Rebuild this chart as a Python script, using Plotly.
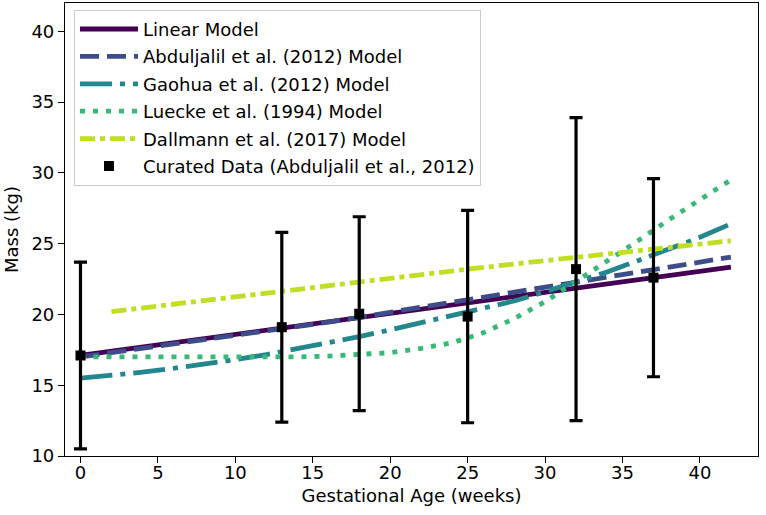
import plotly.graph_objects as go

# ---- data ----
weeks = [0, 2, 4, 6, 8, 10, 12, 14, 16, 18, 20, 22, 24, 26, 28, 30, 32, 34, 36, 38, 40, 42]
linear_weeks = [0, 42]
linear_mass = [17.1, 23.35]
abduljalil_mass = [17.0, 17.3, 17.6, 17.9, 18.2, 18.5, 18.8, 19.1, 19.45, 19.8, 20.15,
                   20.5, 20.85, 21.2, 21.55, 21.9, 22.25, 22.6, 23.0, 23.35, 23.7, 24.05]
gaohua_mass = [15.5, 15.7, 15.92, 16.19, 16.48, 16.81, 17.16, 17.56, 17.98, 18.43, 18.91,
               19.4, 19.9, 20.4, 20.95, 21.6, 22.3, 23.0, 23.8, 24.6, 25.45, 26.4]
luecke_mass = [17.0, 17.0, 17.0, 16.95, 16.95, 16.95, 16.95, 17.0, 17.05, 17.15, 17.3,
               17.6, 18.0, 18.7, 19.7, 20.9, 22.3, 23.7, 25.2, 26.7, 28.1, 29.5]
dallmann_weeks = [2, 5, 10, 15, 20, 25, 30, 35, 42]
dallmann_mass = [20.2, 20.6, 21.25, 21.9, 22.55, 23.2, 23.8, 24.35, 25.2]

data_weeks = [0, 13, 18, 25, 32, 37]
data_mass = [17.1, 19.1, 20.05, 19.85, 23.2, 22.6]
data_sd = [6.6, 6.7, 6.85, 7.5, 10.7, 7.0]

names = ["Linear Model", "Abduljalil et al. (2012) Model", "Gaohua et al. (2012) Model",
         "Luecke et al. (1994) Model", "Dallmann et al. (2017) Model",
         "Curated Data (Abduljalil et al., 2012)"]
colors = ["#440154", "#3e4c8a", "#23878d", "#38b977", "#bfdf25"]
dashes = ["solid", "19px,8px", "32px,8px,5px,8px", "5px,8px", "15px,5px,5px,5px"]

FONT = "DejaVu Sans"
LW = 4.8

fig = go.Figure()
series = [(linear_weeks, linear_mass), (weeks, abduljalil_mass), (weeks, gaohua_mass),
          (weeks, luecke_mass), (dallmann_weeks, dallmann_mass)]
for i, (xs, ys) in enumerate(series):
    fig.add_trace(go.Scatter(x=xs, y=ys, mode="lines", name=names[i],
                             legendgroup=str(i),
                             line=dict(color=colors[i], width=LW, dash=dashes[i])))

fig.add_trace(go.Scatter(
    x=data_weeks, y=data_mass, mode="markers", name=names[5], legendgroup="5",
    marker=dict(symbol="square", size=10, color="black"),
    error_y=dict(type="data", array=data_sd, visible=True, color="black",
                 thickness=3.2, width=6.5)))

axis_common = dict(showline=True, linecolor="black", linewidth=1.2, mirror=True,
                   ticks="outside", ticklen=6, tickwidth=1.2, tickcolor="black",
                   showgrid=False, zeroline=False,
                   tickfont=dict(family=FONT, size=18, color="black"))

fig.update_xaxes(range=[-1.0, 43.75], tickmode="array", tickvals=[0, 5, 10, 15, 20, 25, 30, 35, 40],
                 ticklabelstandoff=-6,
                 title=dict(text="Gestational Age (weeks)", font=dict(family=FONT, size=18, color="black"),
                            standoff=7),
                 **axis_common)
fig.update_yaxes(range=[10, 42], tickmode="array", tickvals=[10, 15, 20, 25, 30, 35, 40],
                 title=dict(text="Mass (kg)", font=dict(family=FONT, size=18, color="black"),
                            standoff=8),
                 **axis_common)

fig.update_layout(
    width=766, height=515,
    margin=dict(l=65, r=7.5, t=3.3, b=59.3, autoexpand=False),
    plot_bgcolor="white", paper_bgcolor="white",
    font=dict(family=FONT, size=18, color="black"),
    legend=dict(x=0.013, y=0.985, xanchor="left", yanchor="top",
                bgcolor="rgba(255,255,255,0.85)", bordercolor="#cccccc", borderwidth=1,
                font=dict(family=FONT, size=18, color="black"),
                itemwidth=58, traceorder="grouped", tracegroupgap=1),
)

fig.write_html("out.html", config={"displayModeBar": False},
               post_script="document.body.style.margin='0';")
